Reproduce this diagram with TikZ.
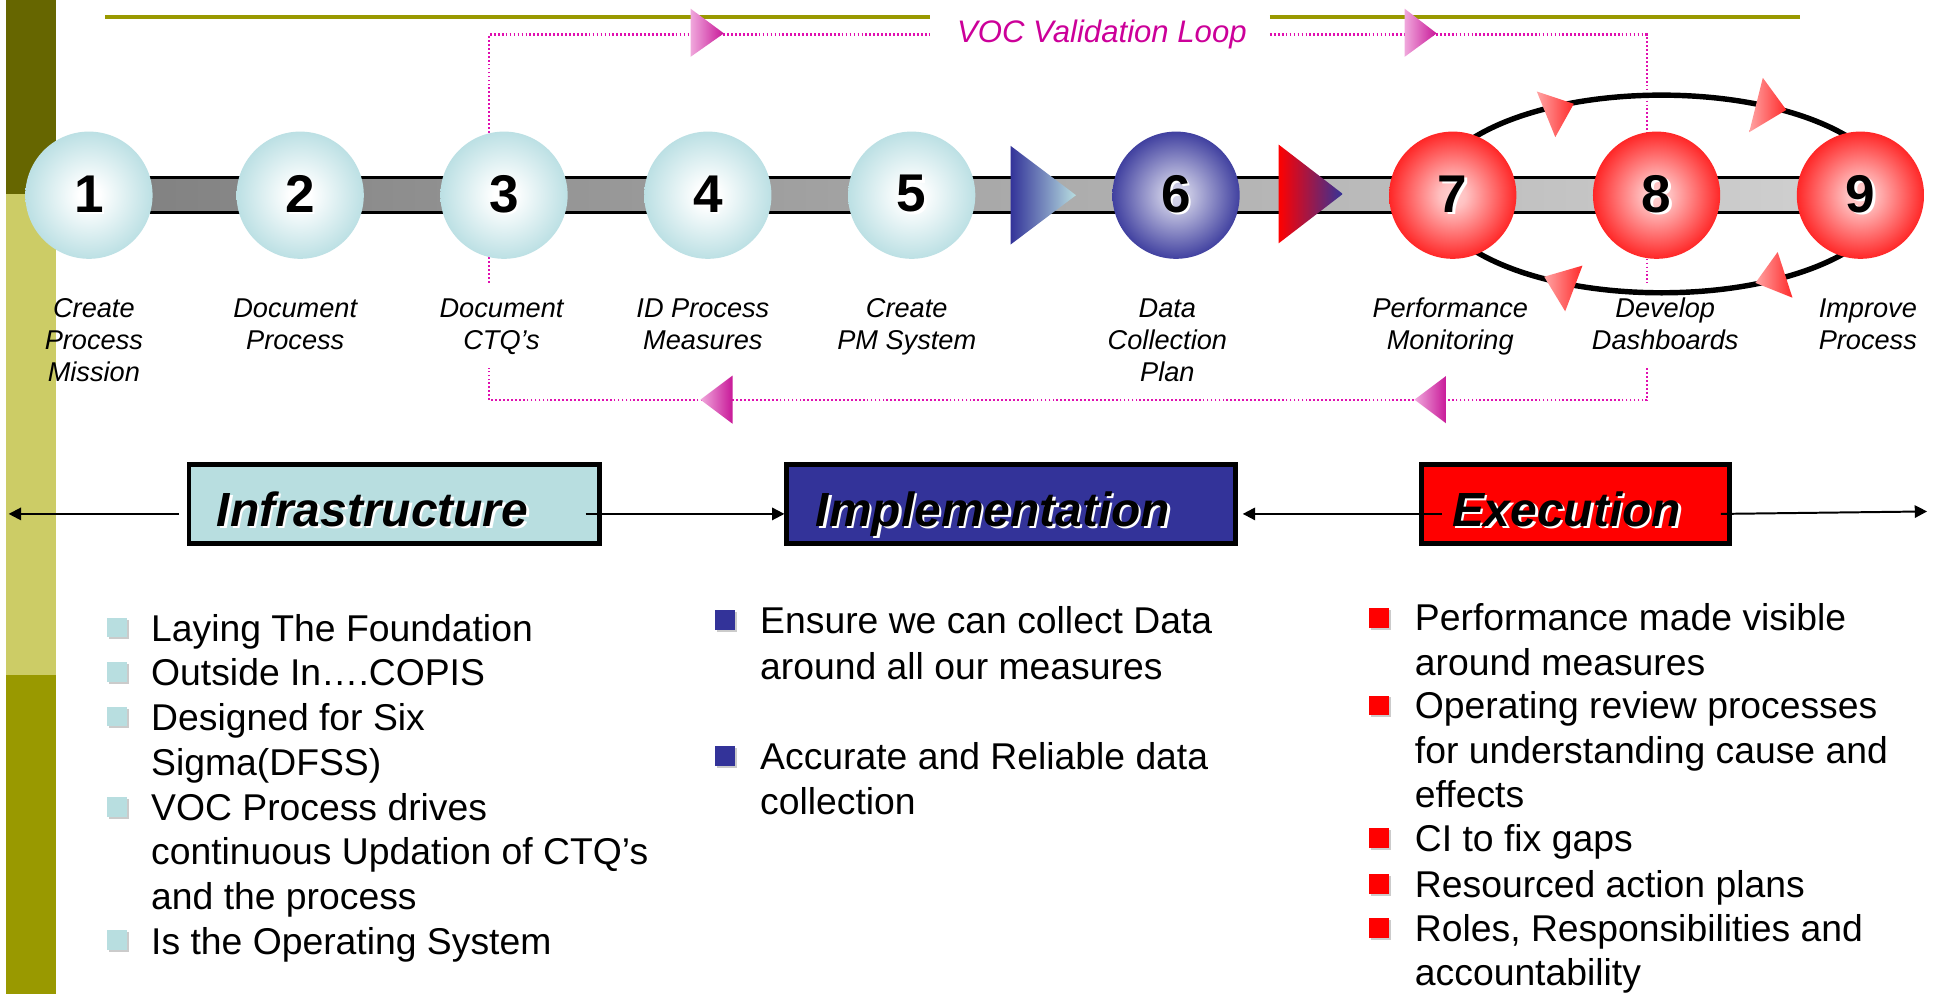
\documentclass[tikz,border=0pt]{standalone}
\usepackage{fontspec}
\setmainfont{Liberation Sans}
\usetikzlibrary{arrows.meta,shadows,calc}

\definecolor{oliveD}{HTML}{666600}
\definecolor{oliveL}{HTML}{CCCC66}
\definecolor{oliveM}{HTML}{999900}
\definecolor{cyanB}{HTML}{B8DEE0}
\definecolor{cyanE}{HTML}{BCE0E4}
\definecolor{navyB}{HTML}{333399}
\definecolor{redB}{HTML}{FF0000}
\definecolor{magT}{HTML}{CC0099}
\definecolor{magD}{HTML}{E010B0}
\definecolor{pinkL}{HTML}{F0A8DC}
\definecolor{pinkD}{HTML}{C81898}
\definecolor{salL}{HTML}{FFA4A4}
\definecolor{salD}{HTML}{FF2A2A}

\pgfdeclareradialshading{cyanball}{\pgfpoint{0bp}{0bp}}{color(0bp)=(white); color(4bp)=(white); color(25bp)=(cyanE); color(50bp)=(cyanE)}
\pgfdeclareradialshading{navyball}{\pgfpoint{0bp}{0bp}}{color(0bp)=(navyB!20); color(5bp)=(navyB!27); color(27bp)=(navyB); color(50bp)=(navyB)}
\pgfdeclareradialshading{redball}{\pgfpoint{0bp}{0bp}}{color(0bp)=(red!18); color(5bp)=(red!24); color(30bp)=(red); color(50bp)=(red)}

\newcommand\shtext[1]{\leavevmode\rlap{\kern1pt\raisebox{-1pt}{\color{white}#1}}#1}

\begin{document}
\begin{tikzpicture}[x=0.5pt,y=-0.5pt,
  ball/.style={circle, minimum size=51.5pt, inner sep=0pt, shade, shading=#1, font=\bfseries\fontsize{21.5}{21.5}\selectfont},
  lab/.style={font=\itshape\fontsize{11}{11}\selectfont, anchor=base, inner sep=0pt},
  hbox/.style={draw=black, line width=2pt, minimum height=32pt, inner sep=0pt},
  boxtxt/.style={anchor=base west, inner sep=0pt, font=\bfseries\itshape\fontsize{19.4}{19.4}\selectfont},
  conn/.style={line width=0.8pt, -{Triangle[length=5pt,width=5pt]}},
  vocloop/.style={magD, line width=0.9pt, dash pattern=on 0.7pt off 0.9pt},
  voct/.style={text=magT, anchor=base, inner sep=0pt, font=\itshape\fontsize{12.6}{12.6}\selectfont},
  btxt/.style={font=\fontsize{15.1}{15.1}\selectfont, anchor=base west, inner sep=0pt},
  bsq/.style={minimum size=8pt, inner sep=0pt, fill=#1, drop shadow={shadow xshift=0.8pt, shadow yshift=-0.8pt, fill=black!40}},
]
\useasboundingbox (0,0) rectangle (1568,805);
\fill[white] (0,0) rectangle (1568,805);
% left band
\fill[oliveD] (5,0) rectangle (45,157);
\fill[oliveL] (5,157) rectangle (45,546);
\fill[oliveM] (5,546) rectangle (45,805);

% circle positions
\foreach \n/\x in {1/72,2/243,3/408,4/573,5/738,6/952,7/1176,8/1341,9/1506}
  \coordinate (k\n) at (\x,158);

% VOC label and top olive line
\node[voct] (voc) at (892,34.5) {VOC Validation Loop};
\draw[oliveM, line width=1.5pt] (85,14) -- (753,14) (1028,14) -- (1457,14);

% VOC validation loop (dotted)
\coordinate (lt) at (396,28);
\coordinate (rt) at (1333,28);
\coordinate (rb) at (1333,324);
\coordinate (lb) at (396,324);
\draw[vocloop] (396,229) -- (lt) -- (752,28);
\draw[vocloop] (1028,28) -- (rt) -- (1333,229);
\draw[vocloop] (1333,298) -- (rb) -- (lb) -- (396,298);
% loop arrowheads
\shade[left color=pinkL, right color=pinkD] (559,7) -- (586,27) -- (559,46) -- cycle;
\shade[left color=pinkL, right color=pinkD] (1137,7) -- (1163,27) -- (1137,46) -- cycle;
\shade[left color=pinkL, right color=pinkD] (593,304) -- (567,323.5) -- (593,343) -- cycle;
\shade[left color=pinkL, right color=pinkD] (1171,304) -- (1145,323.5) -- (1171,343) -- cycle;

% gray bar
\shade[left color=black!50, right color=black!18] ($(k1)+(0,-14)$) rectangle ($(k9)+(0,14)$);
\draw[line width=1.2pt] ($(k1)+(0,-14)$) -- ($(k9)+(0,-14)$);
\draw[line width=1.2pt] ($(k1)+(0,14)$) -- ($(k9)+(0,14)$);
% bar triangles
\shade[left color=navyB, right color=cyanB] (818,118) -- (871,158) -- (818,198) -- cycle;
\shade[left color=red, right color=navyB] (1035,117) -- (1087,157) -- (1035,197) -- cycle;

% ellipse around 7-8-9
\draw[line width=2.2pt] (1345,157) ellipse [x radius=92.5pt, y radius=40pt];
\shade[left color=salL, right color=salD] (1244,74) -- (1274,84) -- (1259,111) -- cycle;
\shade[left color=salL, right color=salD] (1427,63) -- (1446,89) -- (1416,107) -- cycle;
\shade[left color=salL, right color=salD] (1250,224) -- (1281,215) -- (1267,252) -- cycle;
\shade[left color=salL, right color=salD] (1439,204) -- (1451,241) -- (1421,229) -- cycle;

% circles
\node[ball=cyanball] (c1) at (k1) {\shtext{1}};
\node[ball=cyanball] (c2) at (k2) {\shtext{2}};
\node[ball=cyanball] (c3) at (k3) {\shtext{3}};
\node[ball=cyanball] (c4) at (k4) {\shtext{4}};
\node[ball=cyanball] (c5) at (k5) {\shtext{5}};
\node[ball=navyball] (c6) at (k6) {\shtext{6}};
\node[ball=redball] (c7) at (k7) {\shtext{7}};
\node[ball=redball] (c8) at (k8) {\shtext{8}};
\node[ball=redball] (c9) at (k9) {\shtext{9}};

% step labels
\node[lab] (l1a) at (76,257) {Create};
\node[lab] (l1b) at (76,283) {Process};
\node[lab] (l1c) at (76,308.5) {Mission};
\node[lab] (l2a) at (239,257) {Document};
\node[lab] (l2b) at (239,283) {Process};
\node[lab] (l3a) at (406,257) {Document};
\node[lab] (l3b) at (406,283) {CTQ’s};
\node[lab] (l4a) at (569,257) {ID Process};
\node[lab] (l4b) at (569,283) {Measures};
\node[lab] (l5a) at (734,257) {Create};
\node[lab] (l5b) at (734,283) {PM System};
\node[lab] (l6a) at (945,257) {Data};
\node[lab] (l6b) at (945,283) {Collection};
\node[lab] (l6c) at (945,308.5) {Plan};
\node[lab] (l7a) at (1174,257) {Performance};
\node[lab] (l7b) at (1174,283) {Monitoring};
\node[lab] (l8a) at (1348,257) {Develop};
\node[lab] (l8b) at (1348,283) {Dashboards};
\node[lab] (l9a) at (1512,257) {Improve};
\node[lab] (l9b) at (1512,283) {Process};

% phase boxes
\node[hbox, fill=cyanB, minimum width=166pt] (infra) at (319,408) {};
\node[hbox, fill=navyB, minimum width=181.5pt] (impl) at (818.5,408) {};
\node[hbox, fill=redB, minimum width=124.5pt] (exec) at (1275.5,408) {};
\node[boxtxt] (infraT) at (175,426) {\shtext{Infrastructure}};
\node[boxtxt] (implT) at (660,426) {\shtext{Implementation}};
\node[boxtxt] (execT) at (1175,426) {\shtext{Execution}};

% connectors between boxes
\coordinate (lend) at (7,416);
\coordinate (rend) at (1560,414);
\draw[conn] ([xshift=-3pt,yshift=-4pt]infra.west) -- (lend);
\draw[conn] ([xshift=-6.5pt,yshift=-4pt]infra.east) -- ([yshift=-4pt]impl.west);
\draw[conn] ([xshift=9pt,yshift=-4pt]exec.west) -- ([xshift=2pt,yshift=-4pt]impl.east);
\draw[conn] ([xshift=-4.5pt,yshift=-4pt]exec.east) -- (rend);

% Infrastructure bullets
\node[bsq=cyanB] (ib1) at (95,508) {};
\node[bsq=cyanB] (ib2) at (95,544) {};
\node[bsq=cyanB] (ib3) at (95,580) {};
\node[bsq=cyanB] (ib4) at (95,653) {};
\node[bsq=cyanB] (ib5) at (95,761) {};
\node[btxt] (it1) at (122,519) {Laying The Foundation};
\node[btxt] (it2) at (122,555.2) {Outside In….COPIS};
\node[btxt] (it3) at (122,591.4) {Designed for Six};
\node[btxt] (it4) at (122,627.6) {Sigma(DFSS)};
\node[btxt] (it5) at (122,663.8) {VOC Process drives};
\node[btxt] (it6) at (122,700) {continuous Updation of CTQ’s};
\node[btxt] (it7) at (122,736.2) {and the process};
\node[btxt] (it8) at (122,772.4) {Is the Operating System};

% Implementation bullets
\node[bsq=navyB] (mb1) at (587,502) {};
\node[bsq=navyB] (mb2) at (587,612) {};
\node[btxt] (mt1) at (615,513) {Ensure we can collect Data};
\node[btxt] (mt2) at (615,550) {around all our measures};
\node[btxt] (mt3) at (615,623) {Accurate and Reliable data};
\node[btxt] (mt4) at (615,659) {collection};

% Execution bullets
\node[bsq=redB] (eb1) at (1116,500) {};
\node[bsq=redB] (eb2) at (1116,571) {};
\node[bsq=redB] (eb3) at (1116,678.5) {};
\node[bsq=redB] (eb4) at (1116,715.5) {};
\node[bsq=redB] (eb5) at (1116,751.5) {};
\node[btxt] (et1) at (1145,510.6) {Performance made visible};
\node[btxt] (et2) at (1145,546.5) {around measures};
\node[btxt] (et3) at (1145,582) {Operating review processes};
\node[btxt] (et4) at (1145,618) {for understanding cause and};
\node[btxt] (et5) at (1145,654) {effects};
\node[btxt] (et6) at (1145,689.5) {CI to fix gaps};
\node[btxt] (et7) at (1145,726.5) {Resourced action plans};
\node[btxt] (et8) at (1145,762.4) {Roles, Responsibilities and};
\node[btxt] (et9) at (1145,798) {accountability};
\end{tikzpicture}
\end{document}
